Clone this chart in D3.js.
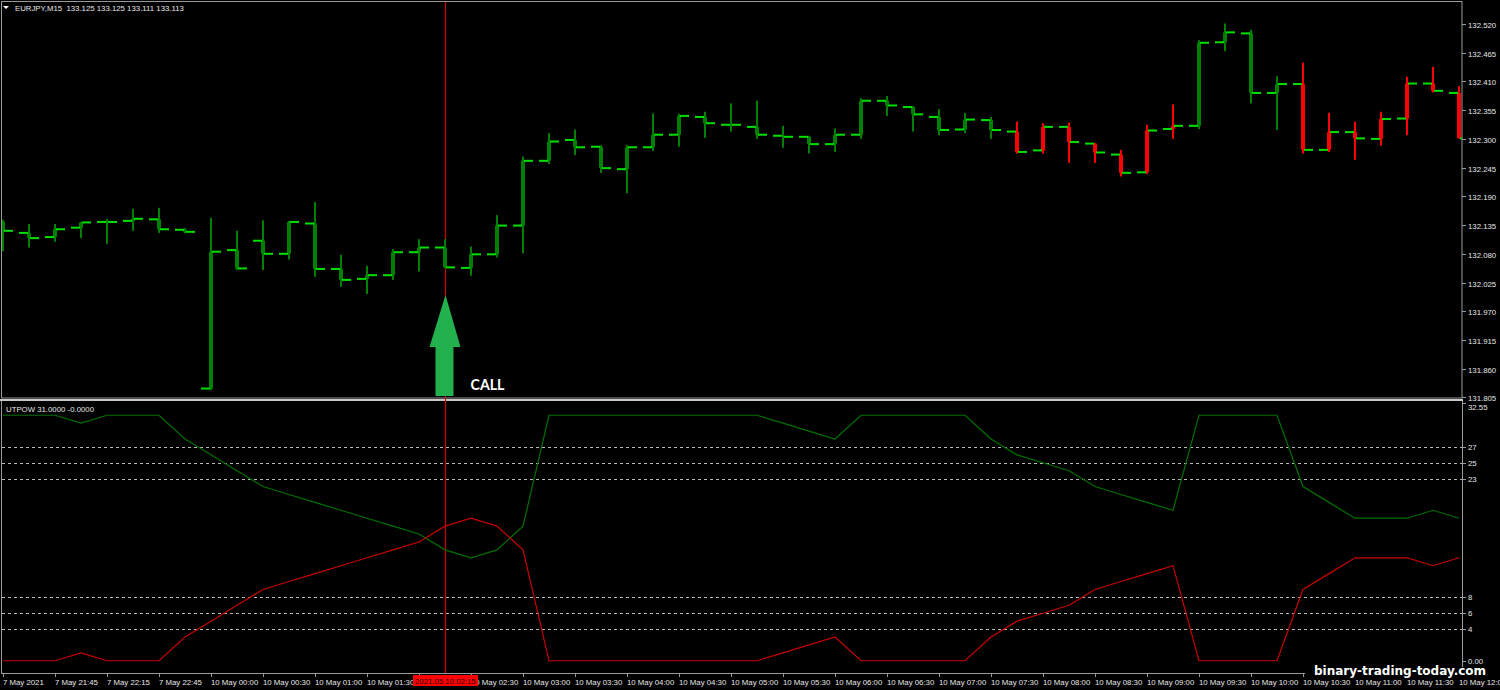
<!DOCTYPE html>
<html><head><meta charset="utf-8">
<script src="https://cdn.jsdelivr.net/npm/d3@7"></script>
<style>
html,body{margin:0;padding:0;background:#000;overflow:hidden;}
svg{display:block;}
text{font-family:"Liberation Sans",Arial,sans-serif;}
</style></head><body>
<svg id="c" width="1500" height="690"></svg>
<script>
// ---------- DATA ----------
const symbolTitle = "EURJPY,M15  133.125 133.125 133.111 133.113";
const indicatorTitle = "UTPOW 31.0000 -0.0000";
const timeLabels = ["7 May 2021","7 May 21:45","7 May 22:15","7 May 22:45","10 May 00:00","10 May 00:30",
  "10 May 01:00","10 May 01:30","10 May 02:00","10 May 02:30","10 May 03:00","10 May 03:30","10 May 04:00",
  "10 May 04:30","10 May 05:00","10 May 05:30","10 May 06:00","10 May 06:30","10 May 07:00","10 May 07:30",
  "10 May 08:00","10 May 08:30","10 May 09:00","10 May 09:30","10 May 10:00","10 May 10:30","10 May 11:00",
  "10 May 11:30","10 May 12:00"];
const openP = [132.141,132.120,132.112,132.130,132.141,132.143,132.146,132.126,131.822,132.087,
  132.105,132.080,132.138,132.051,132.032,132.039,132.083,132.092,132.053,132.079,
  132.134,132.258,132.298,132.285,132.242,132.284,132.308,132.342,132.327,132.323,
  132.306,132.304,132.290,132.308,132.373,132.361,132.342,132.318,132.336,132.314,
  132.278,132.323,132.291,132.270,132.236,132.319,132.325,132.485,132.502,132.388,
  132.405,132.279,132.313,132.300,132.339,132.406,132.388];
const highP = [132.145,132.137,132.137,132.141,132.147,132.166,132.168,132.129,132.149,132.124,
  132.144,132.143,132.179,132.078,132.057,132.089,132.108,132.108,132.094,132.154,
  132.266,132.311,132.318,132.288,132.288,132.349,132.348,132.352,132.368,132.373,
  132.325,132.306,132.320,132.378,132.382,132.363,132.357,132.350,132.342,132.333,
  132.330,132.331,132.292,132.279,132.327,132.366,132.489,132.521,132.509,132.420,
  132.446,132.350,132.333,132.352,132.419,132.438,132.401];
const lowP = [132.085,132.092,132.103,132.110,132.099,132.124,132.120,132.119,131.819,132.049,
  132.049,132.069,132.036,132.017,132.003,132.030,132.046,132.052,132.038,132.073,
  132.081,132.252,132.269,132.235,132.196,132.277,132.285,132.302,132.314,132.300,
  132.283,132.272,132.275,132.300,132.344,132.314,132.307,132.311,132.300,132.272,
  132.272,132.254,132.254,132.228,132.233,132.300,132.319,132.468,132.368,132.317,
  132.272,132.275,132.260,132.287,132.307,132.389,132.301];
const closeP = [132.124,132.110,132.127,132.140,132.141,132.147,132.127,132.122,132.084,132.052,
  132.080,132.141,132.051,132.030,132.039,132.083,132.092,132.054,132.079,132.134,
  132.258,132.295,132.284,132.244,132.284,132.308,132.344,132.330,132.327,132.308,
  132.304,132.290,132.308,132.373,132.364,132.347,132.317,132.337,132.317,132.275,
  132.323,132.294,132.274,132.235,132.316,132.325,132.484,132.504,132.388,132.405,
  132.279,132.313,132.301,132.338,132.406,132.392,132.301];
const barTrend = ["up","up","up","up","up","up","up","up","up","up",
  "up","up","up","up","up","up","up","up","up","up",
  "up","up","up","up","up","up","up","up","up","up",
  "up","up","up","up","up","up","up","up","up","down",
  "down","down","down","down","down","down","up","up","up","up",
  "down","down","down","down","down","down","down"];
const upPower = [31,31,31,30,31,31,31,28,26,24,22,21,20,19,18,17,16,14,13,14,
  17,31,31,31,31,31,31,31,31,31,30,29,28,31,31,31,31,31,28,26,
  25,24,22,21,20,19,31,31,31,31,22,20,18,18,18,19,18];
const downPower = [0,0,0,1,0,0,0,3,5,7,9,10,11,12,13,14,15,17,18,17,
  14,0,0,0,0,0,0,0,0,0,1,2,3,0,0,0,0,0,3,5,
  6,7,9,10,11,12,0,0,0,0,9,11,13,13,13,12,13];
const priceTicks = [132.520,132.465,132.410,132.355,132.300,132.245,132.190,132.135,132.080,132.025,131.970,131.915,131.860,131.805];
const levelValues = [27,25,23,8,6,4];
const oscTickLabels = ["32.55","27","25","23","8","6","4","0.00","-1.55"];
const oscTickValues = [32.55,27,25,23,8,6,4,0,-1.55];
const crossBar = 17;
const crossLabel = "2021.05.10 02:15";
const signalText = "CALL";
const signalPrice = 132.001;
const watermark = "binary-trading-today.com";

// ---------- LAYOUT ----------
const svg = d3.select("#c");
const L = 2, R = 1462, topT = 2, topB = 398, botT = 402, botB = 673;
const x = d3.scaleLinear().domain([0, openP.length - 1]).range([3, 1459]);
const yP = d3.scaleLinear().domain([131.805, 132.520]).range([397.4, 24]);
const yO = d3.scaleLinear().domain([-1.55, 32.55]).range([673, 403]);
const frame = "#9a9a9a", txt = "#e6e6e6";

svg.append("rect").attr("width",1500).attr("height",690).attr("fill","#000");
const defs = svg.append("defs");
defs.append("clipPath").attr("id","cpTop").append("rect").attr("x",L).attr("y",topT).attr("width",R-L).attr("height",topB-topT);
defs.append("clipPath").attr("id","cpBot").append("rect").attr("x",L).attr("y",botT).attr("width",R-L).attr("height",botB-botT);

// frames
svg.append("rect").attr("x",1.5).attr("y",1.5).attr("width",R-1.5).attr("height",topB-1.5)
  .attr("fill","none").attr("stroke",frame).attr("stroke-width",1);
svg.append("rect").attr("x",0).attr("y",399).attr("width",R+1).attr("height",2).attr("fill","#c8c8c8");
svg.append("line").attr("x1",1.5).attr("x2",1.5).attr("y1",401).attr("y2",botB).attr("stroke",frame);
svg.append("line").attr("x1",R+0.5).attr("x2",R+0.5).attr("y1",401).attr("y2",botB).attr("stroke",frame);
svg.append("line").attr("x1",1).attr("x2",R+1).attr("y1",botB+0.5).attr("y2",botB+0.5).attr("stroke",frame);

// price axis
const pa = svg.append("g");
priceTicks.forEach(p => {
  const yy = Math.round(yP(p)) + 0.5;
  pa.append("line").attr("x1",R).attr("x2",R+4).attr("y1",yy).attr("y2",yy).attr("stroke",frame);
  pa.append("text").attr("x",R+6).attr("y",yy+3).attr("fill",txt).attr("font-size","7.8px")
    .text(d3.format(".3f")(p));
});

// oscillator levels
const lv = svg.append("g").attr("clip-path","url(#cpBot)");
levelValues.forEach(v => {
  lv.append("line").attr("x1",L).attr("x2",R).attr("y1",Math.round(yO(v))+0.5).attr("y2",Math.round(yO(v))+0.5)
    .attr("stroke","#b8b8b8").attr("stroke-dasharray","3,3").attr("stroke-width",1);
});
const oa = svg.append("g");
oscTickValues.forEach((v,i) => {
  let yy = yO(v);
  let ty = yy + 3;
  if (i === 0) ty = yy + 7;
  if (i === oscTickValues.length-1) ty = yy - 1;
  oa.append("line").attr("x1",R).attr("x2",R+4).attr("y1",Math.round(yy)+0.5).attr("y2",Math.round(yy)+0.5).attr("stroke",frame);
  oa.append("text").attr("x",R+6).attr("y",ty).attr("fill",txt).attr("font-size","7.8px").text(oscTickLabels[i]);
});

// crosshair
svg.append("line").attr("x1",x(crossBar)+0.5).attr("x2",x(crossBar)+0.5).attr("y1",topT).attr("y2",botB)
  .attr("stroke","#d00000").attr("stroke-width",1.2);

// candles
const cg = svg.append("g").attr("clip-path","url(#cpTop)");
const bodyCol = t => t === "up" ? "#008000" : "#ff0000";
openP.forEach((o,i) => {
  const cx = x(i), c = closeP[i], col = bodyCol(barTrend[i]);
  const yh = yP(highP[i]), yl = yP(lowP[i]);
  cg.append("rect").attr("x",cx-1).attr("y",yh).attr("width",2).attr("height",Math.max(1,yl-yh)).attr("fill",col);
  const yo = yP(o), yc = yP(c);
  cg.append("rect").attr("x",cx-2).attr("y",Math.min(yo,yc)).attr("width",4)
    .attr("height",Math.max(1,Math.abs(yo-yc))).attr("fill",col);
  cg.append("rect").attr("x",cx-10).attr("y",yo-1).attr("width",9).attr("height",2).attr("fill","#00e000");
  cg.append("rect").attr("x",cx+1).attr("y",yc-1).attr("width",9).attr("height",2).attr("fill","#00e000");
});

// oscillator lines
const og = svg.append("g").attr("clip-path","url(#cpBot)");
const line = d3.line().x((d,i) => x(i)).y(d => yO(d));
og.append("path").datum(upPower).attr("d",line).attr("fill","none").attr("stroke","#007000").attr("stroke-width",1.2);
og.append("path").datum(downPower).attr("d",line).attr("fill","none").attr("stroke","#c80000").attr("stroke-width",1.2);

// titles
svg.append("path").attr("d","M3,6 L9,6 L6,9 Z").attr("fill","#fff");
svg.append("text").attr("x",15).attr("y",11).attr("fill",txt).attr("font-size","7.8px")
  .style("white-space","pre").text(symbolTitle);
svg.append("text").attr("x",6).attr("y",412).attr("fill",txt).attr("font-size","7.8px").text(indicatorTitle);

// time axis (label hidden under the crosshair time box is not drawn)
const boxL = x(crossBar) - 32, boxR = x(crossBar) + 33;
const ta = svg.append("g");
timeLabels.forEach((t,k) => {
  const xx = Math.round(x(k*2)) + 0.5;
  ta.append("line").attr("x1",xx).attr("x2",xx).attr("y1",botB).attr("y2",botB+4).attr("stroke",frame);
  if (xx > boxL - 4 && xx + 40 < boxR) return;
  ta.append("text").attr("x",xx-0.5).attr("y",685).attr("fill",txt).attr("font-size","7.8px").text(t);
});

// signal arrow
const ax = x(crossBar) + 0.5, ay = yP(signalPrice);
svg.append("path").attr("d",`M${ax},${ay} L${ax+15},${ay+52} L${ax+8},${ay+52} L${ax+8},${topB-2} L${ax-10},${topB-2} L${ax-10},${ay+52} L${ax-16},${ay+52} Z`)
  .attr("fill","#22b14c");
svg.append("text").attr("x",ax+25).attr("y",390).attr("fill","#fff").attr("font-size","16px")
  .attr("font-weight","bold").style("font-family","Lato, 'Open Sans', sans-serif")
  .attr("textLength",34).attr("lengthAdjust","spacingAndGlyphs").text(signalText);

// crosshair time label
svg.append("rect").attr("x",boxL).attr("y",675).attr("width",65).attr("height",11).attr("fill","#ff0000");
svg.append("text").attr("x",boxL+2).attr("y",684).attr("fill","#300000").attr("font-size","7.8px").text(crossLabel);

// watermark
svg.append("rect").attr("x",1305).attr("y",667).attr("width",195).attr("height",10).attr("fill","#000");
svg.append("text").attr("x",1314).attr("y",675).attr("fill","#fff").attr("font-size","12px")
  .attr("font-weight","bold").style("font-family","'DejaVu Sans', sans-serif")
  .attr("stroke","#000").attr("stroke-width",0.6).attr("paint-order","stroke").text(watermark);
</script>
</body></html>
